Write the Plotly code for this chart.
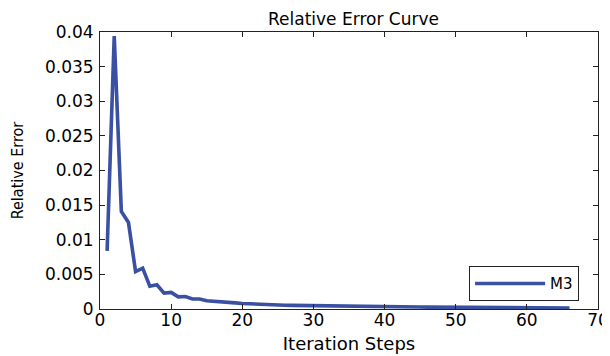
import plotly.graph_objects as go

steps = list(range(1, 67))
rel_error_e3 = [
    8.4, 39.4, 14.1, 12.5, 5.4, 5.9, 3.3, 3.5, 2.3, 2.4,
    1.75, 1.8, 1.45, 1.45, 1.2, 1.15, 1.0, 0.98, 0.88, 0.8,
    0.74, 0.7, 0.65, 0.62, 0.58, 0.55, 0.52, 0.5, 0.48, 0.46,
    0.44, 0.42, 0.41, 0.39, 0.38, 0.37, 0.35, 0.34, 0.33, 0.32,
    0.31, 0.30, 0.29, 0.28, 0.28, 0.27, 0.26, 0.25, 0.25, 0.24,
    0.23, 0.23, 0.22, 0.21, 0.21, 0.20, 0.20, 0.19, 0.19, 0.18,
    0.18, 0.17, 0.17, 0.16, 0.16, 0.15,
]
rel_error = [v / 1000 for v in rel_error_e3]

x_ticks = [0, 10, 20, 30, 40, 50, 60, 70]
y_ticks = [0, 0.005, 0.01, 0.015, 0.02, 0.025, 0.03, 0.035, 0.04]
y_tick_labels = ["0", "0.005", "0.01", "0.015", "0.02", "0.025", "0.03", "0.035", "0.04"]

FONT = "DejaVu Sans"
NARROW = "Liberation Sans Narrow, DejaVu Sans Condensed, DejaVu Sans"

fig = go.Figure()
fig.add_trace(go.Scatter(
    x=steps, y=rel_error, mode="lines", name="M3",
    line=dict(color="#3a50a2", width=3.6),
))

axis_common = dict(
    showline=True, linecolor="#222", linewidth=1, mirror="ticks",
    ticks="inside", ticklen=5, tickcolor="#222", tickwidth=1,
    showgrid=False, zeroline=False, automargin=False,
    tickfont=dict(family=FONT, size=17, color="black"),
)

fig.update_layout(
    width=610, height=356,
    margin=dict(l=92, r=20, t=24, b=55, autoexpand=False),
    paper_bgcolor="white", plot_bgcolor="white",
    title=dict(text="Relative Error Curve", x=0.5664, xanchor="center",
               y=0.968, yanchor="middle", automargin=False,
               font=dict(family=FONT, size=17, color="black")),
    xaxis=dict(range=[0, 70], tickvals=x_ticks, ticklabelstandoff=-4,
               title=dict(text="Iteration Steps", standoff=7,
                          font=dict(family=FONT, size=18, color="black")),
               **axis_common),
    yaxis=dict(range=[0, 0.04], tickvals=y_ticks, ticktext=y_tick_labels,
               ticklabelstandoff=2,
               title=dict(text="Relative Error", standoff=22,
                          font=dict(family=NARROW, size=16, color="black")),
               **axis_common),
    showlegend=True,
    legend=dict(x=0.962, xanchor="right", y=0.028, yanchor="bottom",
                bordercolor="#222", borderwidth=1, bgcolor="white",
                font=dict(family=FONT, size=15, color="black"),
                itemwidth=70, tracegroupgap=0),
)

fig.write_html("out.html")
